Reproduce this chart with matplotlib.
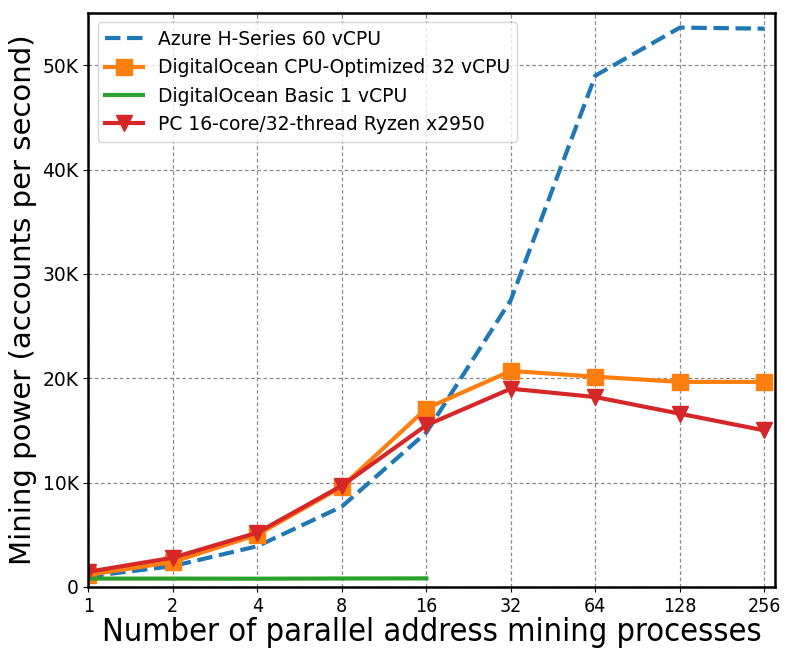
import numpy as np
import matplotlib
matplotlib.use('Agg')
import matplotlib.pyplot as plt
from matplotlib.ticker import FuncFormatter

# number of processes
procs = [1, 2, 4, 8, 16, 32, 64, 128, 256]
procs_basic = [1, 2, 4, 8, 16]

azure = [1000, 2000, 3900, 7700, 14800, 27500, 49000, 53600, 53500]
do_opt = [1150, 2400, 5000, 9600, 17100, 20700, 20150, 19650, 19650]
do_basic = [800, 800, 790, 810, 820]
ryzen = [1450, 2800, 5200, 9700, 15500, 19000, 18200, 16600, 15000]

labels = ['Azure H-Series 60 vCPU',
          'DigitalOcean CPU-Optimized 32 vCPU',
          'DigitalOcean Basic 1 vCPU',
          'PC 16-core/32-thread Ryzen x2950']

fig, ax = plt.subplots(figsize=(7.88, 6.5), dpi=100)
fig.subplots_adjust(left=0.112, right=0.984, top=0.98, bottom=0.097)

ax.plot(procs, azure, '--', color='#1f77b4', lw=3, label=labels[0])
ax.plot(procs, do_opt, '-s', color='#ff7f0e', lw=3, ms=11, label=labels[1])
ax.plot(procs_basic, do_basic, '-', color='#2ca02c', lw=3, label=labels[2])
ax.plot(procs, ryzen, '-v', color='#d62728', lw=3, ms=11, label=labels[3])

ax.set_xscale('log', base=2)
ax.set_xlim(1, 2 ** 8.13)
ax.set_ylim(0, 55000)
ax.set_xticks(procs)
ax.set_xticklabels([str(p) for p in procs], fontsize=14, fontstretch='condensed')
ax.minorticks_off()
ax.yaxis.set_major_formatter(FuncFormatter(lambda v, p: '0' if v == 0 else '%dK' % (v / 1000)))
ax.tick_params(axis='y', labelsize=13.5)
ax.grid(True, color='#8a8a8a', linestyle=(0, (3, 2)), lw=0.9)

for s in ax.spines.values():
    s.set_linewidth(1.8)

ax.set_xlabel('Number of parallel address mining processes', fontsize=23.3, fontstretch='condensed', labelpad=1)
ax.set_ylabel('Mining power (accounts per second)', fontsize=21, labelpad=4)
ax.legend(loc='upper left', fontsize=13.5, handlelength=2)

plt.savefig('out.png')
